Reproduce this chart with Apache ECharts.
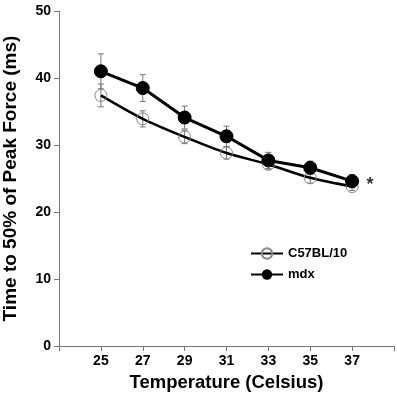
<!DOCTYPE html>
<html>
<head>
<meta charset="utf-8">
<script src="https://cdn.jsdelivr.net/npm/echarts@6/dist/echarts.min.js"></script>
<style>
html,body{margin:0;padding:0;background:#fff;}
#main{width:397px;height:394px;}
</style>
</head>
<body>
<div id="main"></div>
<script>
var temps = [25, 27, 29, 31, 33, 35, 37];
var c57 = [37.4, 33.9, 31.2, 28.8, 27.1, 25.1, 23.8];
var c57Err = [1.7, 1.2, 1.0, 0.9, 0.7, 0.8, 0.6];
var mdx = [41.0, 38.5, 34.1, 31.3, 27.7, 26.6, 24.6];
var mdxErr = [2.6, 2.0, 1.7, 1.5, 1.2, 1.0, 1.0];
var yTicks = [0, 10, 20, 30, 40, 50];
var starMark = [[37.85, 24.4]];

function pairs(ys) {
	return temps.map(function (t, i) { return [t, ys[i]]; });
}
function errData(ys, es) {
	return temps.map(function (t, i) { return [t, ys[i] - es[i], ys[i] + es[i]]; });
}
function errBar(params, api) {
	var lo = api.coord([api.value(0), api.value(1)]);
	var hi = api.coord([api.value(0), api.value(2)]);
	var w = 3;
	var st = { stroke: '#777', lineWidth: 1 };
	return {
		type: 'group',
		children: [
			{ type: 'line', shape: { x1: lo[0], y1: lo[1], x2: hi[0], y2: hi[1] }, style: st },
			{ type: 'line', shape: { x1: lo[0] - w, y1: lo[1], x2: lo[0] + w, y2: lo[1] }, style: st },
			{ type: 'line', shape: { x1: hi[0] - w, y1: hi[1], x2: hi[0] + w, y2: hi[1] }, style: st }
		]
	};
}

var font = 'Liberation Sans, Arial, sans-serif';
var chart = echarts.init(document.getElementById('main'));
var option = {
	animation: false,
	backgroundColor: '#fff',
	textStyle: { fontFamily: font },
	grid: { left: 59, right: 3, top: 11, bottom: 48, containLabel: false, outerBoundsMode: 'none' },
	legend: {
		orient: 'vertical',
		left: 245,
		top: 242,
		itemWidth: 32,
		itemHeight: 13,
		itemGap: 8,
		data: ['C57BL/10', 'mdx'],
		textStyle: { fontFamily: font, fontWeight: 'bold', fontSize: 13, color: '#000' }
	},
	xAxis: {
		type: 'value',
		min: 23,
		max: 39,
		interval: 2,
		name: 'Temperature (Celsius)',
		nameLocation: 'middle',
		nameGap: 27,
		nameTextStyle: { fontFamily: font, fontWeight: 'bold', fontSize: 18.5, color: '#000' },
		axisLine: { lineStyle: { color: '#777', width: 1 } },
		axisTick: { show: true, length: 5, lineStyle: { color: '#777' } },
		axisLabel: {
			fontFamily: font, fontWeight: 'bold', fontSize: 14, color: '#000', margin: 8,
			formatter: function (v) { return temps.indexOf(v) >= 0 ? String(v) : ''; }
		},
		splitLine: { show: false }
	},
	yAxis: {
		type: 'value',
		min: yTicks[0],
		max: yTicks[yTicks.length - 1],
		interval: 10,
		name: 'Time to 50% of Peak Force (ms)',
		nameLocation: 'middle',
		nameGap: 39,
		nameTextStyle: { fontFamily: font, fontWeight: 'bold', fontSize: 19, color: '#000' },
		axisLine: { show: true, lineStyle: { color: '#777', width: 1 } },
		axisTick: { show: true, length: 5, lineStyle: { color: '#777' } },
		axisLabel: { fontFamily: font, fontWeight: 'bold', fontSize: 14, color: '#000', margin: 8 },
		splitLine: { show: false }
	},
	series: [
		{
			type: 'custom',
			renderItem: errBar,
			data: errData(c57, c57Err),
			encode: { x: 0, y: [1, 2] },
			z: 1
		},
		{
			type: 'custom',
			renderItem: errBar,
			data: errData(mdx, mdxErr),
			encode: { x: 0, y: [1, 2] },
			z: 1
		},
		{
			name: 'C57BL/10',
			type: 'line',
			smooth: 0.3,
			data: pairs(c57),
			symbol: 'circle',
			symbolSize: 12,
			lineStyle: { color: '#000', width: 2.5 },
			itemStyle: { color: 'rgba(255,255,255,0)', borderColor: '#888', borderWidth: 1 },
			z: 3
		},
		{
			name: 'mdx',
			type: 'line',
			data: pairs(mdx),
			symbol: 'circle',
			symbolSize: 13,
			lineStyle: { color: '#000', width: 3 },
			itemStyle: { color: '#000', borderColor: '#000' },
			z: 4
		},
		{
			type: 'scatter',
			data: starMark,
			symbolSize: 1,
			itemStyle: { color: 'rgba(0,0,0,0)' },
			label: { show: true, position: 'inside', formatter: '*', fontFamily: font, fontWeight: 'bold', fontSize: 18, color: '#000', offset: [0, 3] },
			z: 5
		}
	]
};
chart.setOption(option);
</script>
</body>
</html>
